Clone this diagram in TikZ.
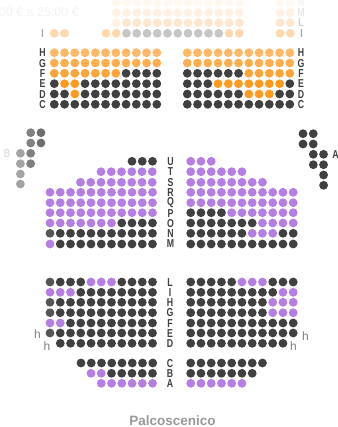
\documentclass[tikz,border=0pt]{standalone}
\usepackage{fontspec}
\setmainfont{Liberation Sans}
\definecolor{dk}{HTML}{404040}
\definecolor{dm}{HTML}{555555}
\definecolor{lv}{HTML}{B57EE5}
\definecolor{or}{HTML}{FF9A1F}
\definecolor{ob}{HTML}{FFA438}
\definecolor{og}{HTML}{FFAE50}
\definecolor{oh}{HTML}{FFB868}
\definecolor{oi}{HTML}{FFD8B0}
\definecolor{ol}{HTML}{FFE6CF}
\definecolor{om}{HTML}{FFF1E3}
\definecolor{on}{HTML}{FFF8F1}
\definecolor{gi}{HTML}{C6C6C6}
\definecolor{sa}{HTML}{6E6E6E}
\definecolor{sb}{HTML}{808080}
\definecolor{sc}{HTML}{A4A4A4}
\newcommand{\seatrow}[4]{%
    \foreach \col [count=\n from 0] in {#4} {
        \node[seat, fill=\col] (#1-\n) at ({#2+\n*10.25},#3) {};
    }
}
\begin{document}
\begin{tikzpicture}[
    x=1pt, y=-1pt,
    % --- Seats ---
    seat/.style={
        circle,
        inner sep=0pt,
        minimum size=8.8pt
    },
    % --- Row Letters ---
    rowlabel/.style={
        font=\fontsize{11.5}{11.5}\selectfont\bfseries,
        text=dk,
        inner sep=0pt,
        xscale=0.76,
        transform shape
    },
    % --- Small h Marks ---
    hmark/.style={
        font=\fontsize{12}{12}\selectfont,
        text=gray,
        inner sep=0pt
    },
    % --- Stage Caption ---
    stage/.style={
        font=\fontsize{13.5}{13.5}\selectfont\bfseries,
        text=black!40,
        inner sep=0pt
    }
]
    \useasboundingbox (0,0) rectangle (337,427);

    % =========================================
    % 1. UPPER TIER
    % =========================================

    \node[anchor=east, inner sep=0pt, text=black!5, font=\fontsize{12.5}{12.5}\selectfont] (price) at (79,13) {0,00 € a 25,00 €};

    % Faded rows
    \seatrow{nl}{116.3}{2.7}{on,on,on,on,on,on,on,on,on,on,on,on,on}
    \seatrow{nr}{280}{2.7}{on,on}
    \seatrow{ml}{116.3}{12.7}{om,om,om,om,om,om,om,om,om,om,om,om,om}
    \seatrow{mr}{280}{12.7}{om,om}
    \seatrow{ll}{116.3}{22.7}{om,ol,ol,ol,ol,ol,ol,ol,ol,ol,ol,ol,ol}
    \seatrow{lr}{280}{22.7}{ol,ol}
    \seatrow{ia}{54.3}{33.3}{oi,oi}
    \seatrow{ib}{106}{33.3}{oi,oi,gi,gi,gi,gi,gi,gi,gi,gi,gi,gi,oi,oi}
    \seatrow{ic}{280}{33.3}{oi,oi}

    % Left block
    \seatrow{hl}{54.3}{52.7}{oh,oh,oh,oh,oh,oh,oh,oh,oh,oh,oh}
    \seatrow{gl}{54.3}{63}{og,og,og,og,og,og,og,og,og,og,og}
    \seatrow{fl}{54.3}{73.3}{ob,ob,ob,ob,ob,ob,ob,dk,dk,dk,dk}
    \seatrow{el}{54.3}{83.7}{dk,or,or,dk,dk,dk,dk,dk,dk,dk,dk}
    \seatrow{dl}{54.3}{94}{dk,dk,or,dk,dk,dk,dk,dk,dk,dk,dk}
    \seatrow{cl}{54.3}{104.3}{dk,dk,dk,dk,dk,dk,dk,dk,dk,dk,dk}

    % Right block
    \seatrow{hr}{187.3}{52.7}{oh,oh,oh,oh,oh,oh,oh,oh,oh,oh,oh}
    \seatrow{gr}{187.3}{63}{og,og,og,og,og,og,og,og,og,og,og}
    \seatrow{fr}{187.3}{73.3}{dk,dk,dk,dk,dk,dk,ob,ob,ob,ob,ob}
    \seatrow{er}{187.3}{83.7}{dk,dk,dk,or,or,or,or,or,or,or,dk}
    \seatrow{dr}{187.3}{94}{dk,dk,dk,dk,dk,dk,or,or,or,dk,dk}
    \seatrow{cr}{187.3}{104.3}{dk,dk,dk,dk,dk,dk,dk,dk,dk,dk,dk}

    % Row letters
    \foreach \lab/\ypos in {H/53,G/63.5,F/73.7,E/84,D/94.2,C/104.5} {
        \node[rowlabel] (left-\lab) at (42.5,\ypos) {\lab};
        \node[rowlabel] (right-\lab) at (301,\ypos) {\lab};
    }
    \node[rowlabel, text=black!35] (left-I) at (42.5,33.5) {I};
    \node[rowlabel, text=black!35] (right-I) at (301.5,33.5) {I};
    \node[rowlabel, text=black!18] (right-L) at (301,23) {L};
    \node[rowlabel, text=black!10] (right-M) at (301,13) {M};
    \node[rowlabel, text=black!5] (right-N) at (301,3) {N};

    % =========================================
    % 2. SIDE BOXES
    % =========================================

    \seatrow{ba}{30.7}{132.7}{sb,sa}
    \seatrow{bb}{30.7}{143}{sb,sa}
    \seatrow{bc}{20.4}{153.3}{sc,sb}
    \seatrow{bd}{20.4}{163.7}{sc,sb}
    \seatrow{be}{20.4}{174}{sc}
    \seatrow{bf}{20.4}{184}{sc}
    \node[rowlabel, text=black!12] (boxB) at (7,153.5) {B};

    \seatrow{aa}{303}{133.7}{dk,dk}
    \seatrow{ab}{303}{144}{dk,dk}
    \seatrow{ac}{313.3}{154.3}{dk,dk}
    \seatrow{ad}{313.3}{164.7}{dk,dk}
    \seatrow{ae}{323.6}{175}{dk}
    \seatrow{af}{323.6}{185.3}{dk}
    \node[rowlabel] (boxA) at (335.5,155) {A};

    % =========================================
    % 3. STALLS, BACK
    % =========================================

    % Left block
    \seatrow{ul}{132}{161.3}{dk,dk,dk}
    \seatrow{tl}{101}{171.7}{lv,lv,lv,lv,lv,lv}
    \seatrow{sl}{80.5}{182.3}{lv,lv,lv,lv,lv,lv,lv,lv}
    \seatrow{rl}{50}{192.3}{lv,lv,lv,lv,lv,lv,lv,lv,lv,lv,lv}
    \seatrow{ql}{50}{202.7}{lv,lv,lv,lv,lv,lv,lv,lv,lv,lv,lv}
    \seatrow{pl}{50}{212.7}{lv,lv,lv,lv,lv,lv,lv,lv,lv,lv,lv}
    \seatrow{ol}{50}{223}{lv,lv,lv,lv,lv,lv,lv,dk,dk,dk,dk}
    \seatrow{sn}{50}{233.3}{dm,dk,dk,dk,dk,dk,dk,dk,dk,dk,dk}
    \seatrow{sm}{50}{244}{lv,dk,dk,dk,dk,dk,dk,dk,dk,dk,dk}

    % Right block
    \seatrow{ur}{190.7}{161.3}{lv,lv,lv}
    \seatrow{tr}{190.7}{171.7}{lv,lv,lv,lv,lv,lv}
    \seatrow{sr}{190.7}{182.3}{lv,lv,lv,lv,lv,lv,lv,lv}
    \seatrow{rr}{190.7}{192.3}{lv,lv,lv,lv,lv,lv,lv,lv,lv,lv,lv}
    \seatrow{qr}{190.7}{202.7}{lv,lv,lv,lv,lv,lv,lv,lv,lv,lv,lv}
    \seatrow{pr}{190.7}{212.7}{dk,dk,dk,dk,lv,lv,lv,lv,lv,lv,lv}
    \seatrow{or}{190.7}{223}{dk,dk,dk,dk,dk,dk,dk,lv,lv,lv,lv}
    \seatrow{tn}{190.7}{233.3}{dk,dk,dk,dk,dk,dk,lv,lv,lv,dk,dk}
    \seatrow{tm}{190.7}{244}{dk,dk,dk,dk,dk,dk,dk,dk,dk,dk,dk}

    % Row letters
    \foreach \lab/\ypos in {U/162,T/172,S/183,R/193,Q/203,P/213.5,O/224,N/234,M/244} {
        \node[rowlabel] (back-\lab) at (170.5,\ypos) {\lab};
    }

    % =========================================
    % 4. STALLS, FRONT
    % =========================================

    % Left block
    \seatrow{fa}{50}{282}{dm,dk,dk,dk,lv,lv,lv,dk,dk,dk,dk}
    \seatrow{fb}{50}{292.3}{lv,lv,lv,dk,dk,dk,dk,dk,dk,dk,dk}
    \seatrow{fc}{50}{302.3}{dm,dk,dk,dk,dk,dk,dk,dk,dk,dk,dk}
    \seatrow{fd}{50}{312.7}{dm,dk,dk,dk,dk,dk,dk,dk,dk,dk,dk}
    \seatrow{fe}{50}{323}{lv,lv,dk,dk,dk,dk,dk,dk,dk,dk,dk}
    \seatrow{ff}{50}{333}{dm,dk,dk,dk,dk,dk,dk,dk,dk,dk,dk}
    \seatrow{fg}{60.3}{343.3}{dk,dk,dk,dk,dk,dk,dk,dk,dk,dk}
    \seatrow{fh}{81}{363}{dk,dk,dk,dk,dk,dk,dk,dk}
    \seatrow{fi}{91}{373.3}{lv,lv,dk,dk,dk,dk,dk}
    \seatrow{fj}{101.3}{383.3}{lv,lv,lv,lv,lv,lv}

    % Right block
    \seatrow{ga}{190.7}{282}{dk,dk,dk,dk,dk,lv,lv,lv,dk,dk,dk}
    \seatrow{gb}{190.7}{292.3}{dk,dk,dk,dk,dk,dk,dk,dk,dk,lv,lv}
    \seatrow{gc}{190.7}{302.3}{dk,dk,dk,dk,dk,dk,dk,dk,lv,lv,lv}
    \seatrow{gd}{190.7}{312.7}{dk,dk,dk,dk,dk,dk,dk,dk,lv,lv,lv}
    \seatrow{ge}{190.7}{323}{dk,dk,dk,dk,dk,dk,dk,dk,dk,dk,dk}
    \seatrow{gf}{190.7}{333}{dk,dk,dk,dk,dk,dk,dk,dk,dk,dk,dk}
    \seatrow{gg}{190.7}{343.3}{dk,dk,dk,dk,dk,dk,dk,dk,dk,dk}
    \seatrow{gh}{190.7}{363}{dk,dk,dk,dk,dk,dk,dk,dk}
    \seatrow{gi}{190.7}{373.3}{dk,dk,dk,dk,dk,dk,dk}
    \seatrow{gj}{190.7}{383.3}{lv,lv,lv,lv,lv,lv}

    % Row letters
    \foreach \lab/\ypos in {L/282.7,I/292.7,H/302.9,G/313,F/323.5,E/333.7,D/344,C/364,B/373.7,A/384} {
        \node[rowlabel] (front-\lab) at (170,\ypos) {\lab};
    }

    \node[hmark] (hA) at (37.5,334) {h};
    \node[hmark] (hB) at (47,346) {h};
    \node[hmark] (hC) at (293.5,346.5) {h};
    \node[hmark] (hD) at (305.5,336.5) {h};

    % Stage
    \node[stage] (palco) at (172.5,421) {Palcoscenico};

\end{tikzpicture}
\end{document}
